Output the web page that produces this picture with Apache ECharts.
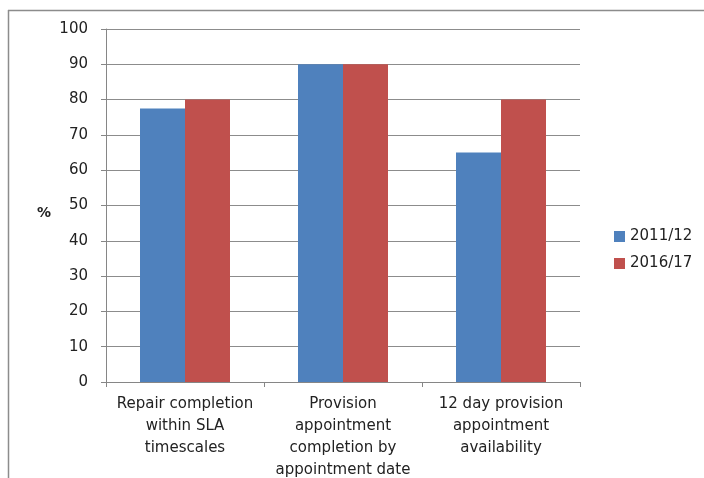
<!DOCTYPE html>
<html>
<head>
<meta charset="utf-8">
<script src="https://cdn.jsdelivr.net/npm/echarts@6/dist/echarts.min.js"></script>
<style>
  html, body { margin: 0; padding: 0; background: #fff; }
  #main { width: 704px; height: 478px; }
</style>
</head>
<body>
<div id="main"></div>
<script>
var categories = ['Repair completion\nwithin SLA\ntimescales', 'Provision\nappointment\ncompletion by\nappointment date', '12 day provision\nappointment\navailability'];
var values2011 = [77.5, 90, 65];
var values2016 = [80, 90, 80];
var seriesNames = ['2011/12', '2016/17'];

var font = 'DejaVu Sans';
var myChart = echarts.init(document.getElementById('main'));
var option = {
  animation: false,
  backgroundColor: '#fff',
  grid: { left: 106, right: 124, top: 29, bottom: 96, outerBoundsMode: 'none' },
  legend: {
    orient: 'vertical',
    left: 609, top: 224,
    itemWidth: 11, itemHeight: 11, itemGap: 12,
    icon: 'rect',
    textStyle: { fontFamily: font, fontSize: 15, color: '#222' },
    data: seriesNames
  },
  xAxis: {
    type: 'category',
    data: categories,
    axisLine: { lineStyle: { color: '#868686' } },
    axisTick: { show: true, length: 5, lineStyle: { color: '#868686' } },
    axisLabel: { interval: 0, fontFamily: font, fontSize: 15, color: '#222', lineHeight: 22, margin: 11 }
  },
  yAxis: {
    type: 'value',
    min: 0, max: 100, interval: 10,
    axisLine: { show: true, lineStyle: { color: '#868686' } },
    axisTick: { show: true, length: 5, lineStyle: { color: '#868686' } },
    splitLine: { lineStyle: { color: '#8c8c8c' } },
    axisLabel: { fontFamily: font, fontSize: 15, color: '#222', margin: 18 }
  },
  graphic: [
    { type: 'line', shape: { x1: 8, y1: 10.5, x2: 704, y2: 10.5 }, style: { stroke: '#8c8c8c', lineWidth: 1.5 } },
    { type: 'line', shape: { x1: 8.5, y1: 10, x2: 8.5, y2: 478 }, style: { stroke: '#8c8c8c', lineWidth: 1.5 } },
    { type: 'text', left: 37, top: 206, style: { text: '%', fontFamily: font, fontSize: 14, fontWeight: 'bold', fill: '#222' } }
  ],
  series: [
    { name: seriesNames[0], type: 'bar', data: values2011, barWidth: 45, barGap: '0%',
      itemStyle: { color: '#4f81bd' } },
    { name: seriesNames[1], type: 'bar', data: values2016, barWidth: 45, barGap: '0%',
      itemStyle: { color: '#c0504d' } }
  ]
};
myChart.setOption(option);
</script>
</body>
</html>
